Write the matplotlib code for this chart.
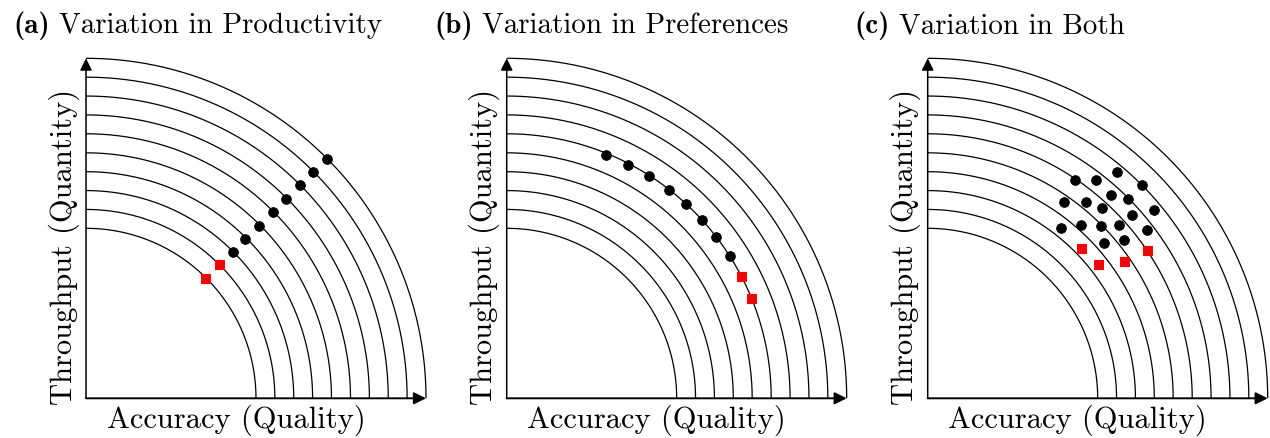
import matplotlib
matplotlib.use('Agg')
import matplotlib.pyplot as plt
import numpy as np

plt.rcParams['font.family'] = 'cmr10'
plt.rcParams['mathtext.fontset'] = 'cm'
plt.rcParams['axes.unicode_minus'] = False

# ---- data (unit = innermost arc radius) ----
radii = [1.0, 1.111, 1.222, 1.333, 1.444, 1.556, 1.667, 1.778, 1.889, 2.0]

titles = ["(a)", "(b)", "(c)"]
subtitles = ["Variation in Productivity", "Variation in Preferences", "Variation in Both"]
xlabel = "Accuracy (Quality)"
ylabel = "Throughput (Quantity)"

# panel (a)
a_black_x = [0.863, 0.935, 1.018, 1.098, 1.176, 1.259, 1.333, 1.416]
a_black_y = [0.859, 0.937, 1.014, 1.094, 1.172, 1.253, 1.329, 1.408]
a_red_x = [0.706, 0.790]
a_red_y = [0.702, 0.786]

# panel (b)
b_black_x = [0.582, 0.714, 0.839, 0.955, 1.053, 1.149, 1.229, 1.312]
b_black_y = [1.434, 1.375, 1.306, 1.225, 1.143, 1.051, 0.951, 0.835]
b_red_x = [1.382, 1.441]
b_red_y = [0.712, 0.582]

# panel (c)
c_black_x = [0.867, 0.990, 1.112, 1.259, 0.800, 0.933, 1.078, 1.178, 1.024,
             1.333, 0.782, 0.902, 1.018, 1.125, 1.202, 1.288, 1.035, 1.157]
c_black_y = [1.284, 1.286, 1.329, 1.255, 1.153, 1.153, 1.198, 1.172, 1.119,
             1.108, 1.000, 1.018, 1.014, 1.019, 1.076, 0.988, 0.912, 0.931]
c_red_x = [0.908, 1.010, 1.161, 1.294]
c_red_y = [0.878, 0.784, 0.800, 0.867]

black_x = [a_black_x, b_black_x, c_black_x]
black_y = [a_black_y, b_black_y, c_black_y]
red_x = [a_red_x, b_red_x, c_red_x]
red_y = [a_red_y, b_red_y, c_red_y]

# ---- layout ----
W, H = 1270, 439
fig = plt.figure(figsize=(W / 100, H / 100), dpi=100)
renderer = fig.canvas.get_renderer()
origins_px = [86.0, 506.7, 927.7]
origin_y_px = 399.3
size_px = 340.0
title_x_px = [13, 434, 854]
title_fs = 20.9
label_fs = 22

theta = np.linspace(0, np.pi / 2, 300)

for i in range(3):
    ox = origins_px[i]
    ax = fig.add_axes([ox / W, (H - origin_y_px) / H, size_px / W, size_px / H])
    ax.set_xlim(0, 2.0)
    ax.set_ylim(0, 2.0)
    ax.axis('off')

    for r in radii:
        ax.plot(r * np.cos(theta), r * np.sin(theta), color='black', lw=0.9,
                clip_on=False, solid_capstyle='butt')

    ax.annotate('', xy=(2.0, 0), xytext=(0, 0),
                arrowprops=dict(arrowstyle='-|>', color='black', lw=1.4,
                                mutation_scale=18, shrinkA=0, shrinkB=0),
                annotation_clip=False)
    ax.annotate('', xy=(0, 2.0), xytext=(0, 0),
                arrowprops=dict(arrowstyle='-|>', color='black', lw=1.1,
                                mutation_scale=18, shrinkA=0, shrinkB=0),
                annotation_clip=False)

    ax.plot(black_x[i], black_y[i], 'o', color='black', markersize=7.0,
            markeredgewidth=0.6, clip_on=False, zorder=5)
    ax.plot(red_x[i], red_y[i], 's', color='#ff0000', markersize=7.6,
            markeredgewidth=0, clip_on=False, zorder=5)

    fig.text((ox + 150) / W, (H - 428) / H, xlabel, fontsize=label_fs,
             ha='center', va='baseline')
    fig.text((ox - 22) / W, (H - 247) / H, ylabel, fontsize=label_fs,
             ha='center', va='center', rotation=90)

    t1 = fig.text(title_x_px[i] / W, (H - 33) / H, titles[i],
                  fontsize=title_fs, family='cmb10', ha='left', va='baseline')
    bb = t1.get_window_extent(renderer=renderer)
    fig.text((bb.x1 + 0.33 * title_fs * 100 / 72) / W, (H - 33) / H, subtitles[i],
             fontsize=title_fs, ha='left', va='baseline')

fig.savefig('out.png', dpi=100)
